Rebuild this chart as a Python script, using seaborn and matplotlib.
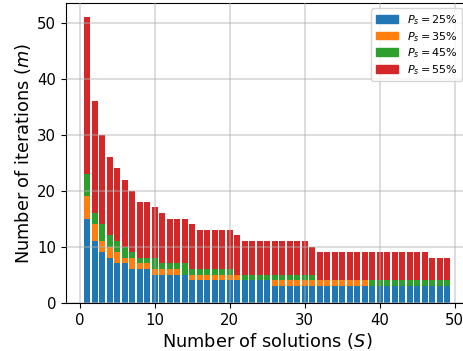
import numpy as np
import pandas as pd
import matplotlib
matplotlib.use("Agg")
import matplotlib.pyplot as plt
import matplotlib.patches as mpatches
import seaborn as sns

# Number of solutions S (x axis)
solutions = list(range(1, 50))

# Iterations needed for each success probability P_s
iters_25 = [15, 11, 9, 8, 7, 7, 6, 6, 6, 5, 5, 5, 5, 5, 4, 4, 4, 4, 4, 4,
            4, 4, 4, 4, 4, 3, 3, 3, 3, 3, 3, 3, 3, 3, 3, 3, 3, 3, 3, 3,
            3, 3, 3, 3, 3, 3, 3, 3, 3]
iters_35 = [19, 14, 11, 10, 9, 8, 8, 7, 7, 6, 6, 6, 6, 5, 5, 5, 5, 5, 5, 5,
            5, 4, 4, 4, 4, 4, 4, 4, 4, 4, 4, 4, 4, 4, 4, 4, 4, 4, 3, 3,
            3, 3, 3, 3, 3, 3, 3, 3, 3]
iters_45 = [23, 16, 14, 12, 11, 10, 9, 8, 8, 8, 7, 7, 7, 7, 6, 6, 6, 6, 6, 6,
            5, 5, 5, 5, 5, 5, 5, 5, 5, 5, 5, 4, 4, 4, 4, 4, 4, 4, 4, 4,
            4, 4, 4, 4, 4, 4, 4, 4, 4]
iters_55 = [51, 36, 30, 26, 24, 22, 20, 18, 18, 17, 16, 15, 15, 15, 14, 13, 13, 13, 13, 13,
            12, 11, 11, 11, 11, 11, 11, 11, 11, 11, 10, 9, 9, 9, 9, 9, 9, 9, 9, 9,
            9, 9, 9, 9, 9, 9, 8, 8, 8]

labels = [r"$P_s = 25\%$", r"$P_s = 35\%$", r"$P_s = 45\%$", r"$P_s = 55\%$"]
colors = ["#1f77b4", "#ff7f0e", "#2ca02c", "#d62728"]
series = [iters_25, iters_35, iters_45, iters_55]

W, H = 463, 351
fig = plt.figure(figsize=((W + 0.4) / 100, (H + 0.4) / 100), dpi=100)
ax = fig.add_axes([65.7 / W, 1 - 302.7 / H, (468.0 - 65.7) / W, (302.7 - 3.3) / H])

# Overlapping bars: tallest series drawn first so smaller ones stay visible
for vals, col in reversed(list(zip(series, colors))):
    df = pd.DataFrame({"S": solutions, "m": vals})
    sns.barplot(data=df, x="S", y="m", native_scale=True, color=col,
                saturation=1, width=0.8, linewidth=0, ax=ax)

ax.set_xlim(-1.84, 51.84)
ax.set_ylim(0, 53.55)
ax.set_xticks([0, 10, 20, 30, 40, 50])
ax.set_yticks([0, 10, 20, 30, 40, 50])
ax.tick_params(labelsize=10.7, direction="out", length=3.5, width=0.8)
ax.grid(True, color="#b0b0b0", alpha=0.55, linewidth=1.1)
ax.set_axisbelow(False)
ax.spines["right"].set_visible(False)

ax.set_xlabel(r"Number of solutions ($S$)", fontsize=12.8, labelpad=2)
ax.set_ylabel(r"Number of iterations ($m$)", fontsize=12.8, labelpad=3)

handles = [mpatches.Patch(color=c, label=l) for c, l in zip(colors, labels)]
ax.legend(handles=handles, loc="upper right", fontsize=8,
          bbox_to_anchor=(0.9985, 1.0), labelspacing=0.25, framealpha=0.8)

fig.savefig("out.png", dpi=100)
